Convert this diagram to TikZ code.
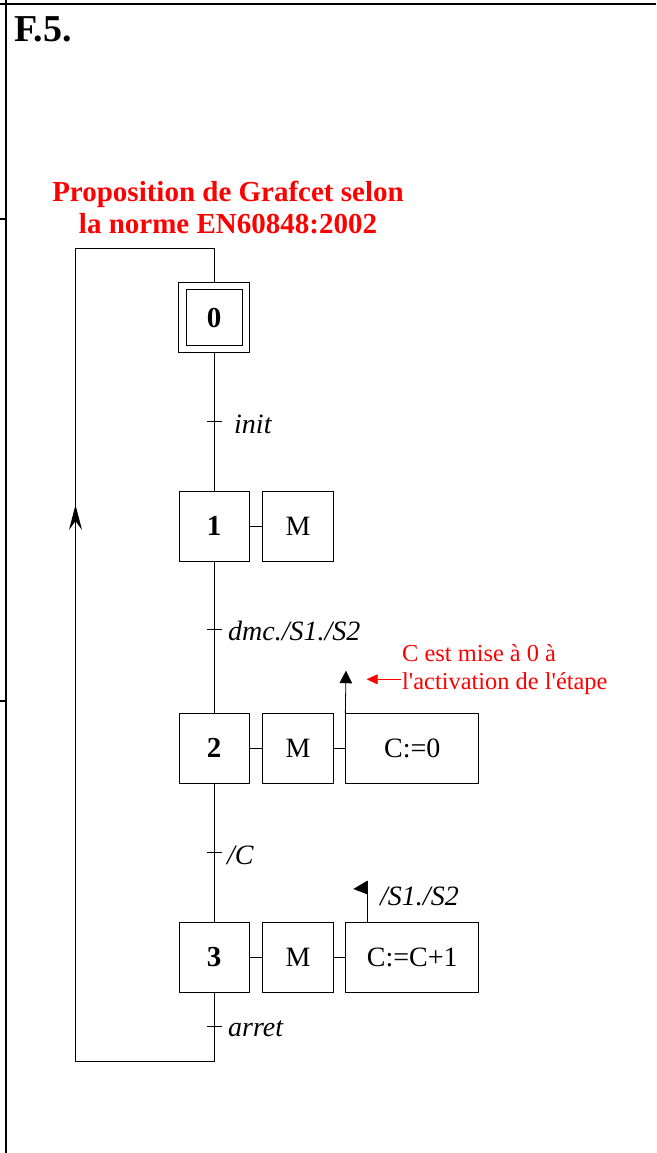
\documentclass[tikz,border=0pt]{standalone}
\usepackage{fontspec}
\setmainfont{Liberation Serif}
\usetikzlibrary{arrows.meta}

\begin{document}
\begin{tikzpicture}[x=1pt, y=1pt,
		etape/.style={draw, line width=0.9pt, minimum width=70pt, minimum height=70pt, inner sep=0pt, font=\bfseries\fontsize{29}{30}\selectfont},
		action/.style={draw, line width=0.9pt, minimum height=70pt, inner sep=0pt, font=\fontsize{28}{30}\selectfont},
		recept/.style={anchor=base west, inner sep=0pt, font=\itshape\fontsize{28}{30}\selectfont},
		titre/.style={anchor=base, inner sep=0pt, text=red, font=\bfseries\fontsize{29}{31}\selectfont},
		note/.style={anchor=base west, inner sep=0pt, text=red, font=\fontsize{24.4}{28}\selectfont},
		lien/.style={line width=0.8pt}]
		\useasboundingbox (0,0) rectangle (656,-1153);
		% Frame
		\draw[line width=2pt] (0,-4.3) -- (656,-4.3);
		\draw[line width=2pt] (6.3,0) -- (6.3,-1153);
		\draw[line width=1.5pt] (0,-219) -- (7,-219);
		\draw[line width=1.5pt] (0,-701) -- (7,-701);
		\node[anchor=base west, inner sep=0pt, font=\bfseries\fontsize{38}{40}\selectfont] (num) at (14,-42) {F.5.};
		% Title
		\node[titre] (titre1) at (228,-201.7) {Proposition de Grafcet selon};
		\node[titre] (titre2) at (228,-233) {la norme EN60848:2002};
		% Steps and actions
		\node[etape, minimum width=71pt] (e0) at (214,-317.7) {};
		\node[etape, minimum width=56pt, minimum height=56pt] (e0i) at (e0) {0};
		\node[etape] (e1) at (214,-526) {1};
		\node[action, minimum width=71pt] (a1) at (298,-526) {M};
		\node[etape] (e2) at (214,-748.3) {2};
		\node[action, minimum width=71pt] (a2) at (298,-748.3) {M};
		\node[action, minimum width=133pt] (c2) at (412.3,-748.3) {C:=0};
		\node[etape] (e3) at (214,-957) {3};
		\node[action, minimum width=71pt] (a3) at (298,-957) {M};
		\node[action, minimum width=133pt] (c3) at (412.3,-957) {C:=C+1};
		\draw[lien] (e1.east) -- (a1.west);
		\draw[lien] (e2.east) -- (a2.west);
		\draw[lien] (a2.east) -- (c2.west);
		\draw[lien] (e3.east) -- (a3.west);
		\draw[lien] (a3.east) -- (c3.west);
		% Links
		\draw[lien] (e0.south) -- (e1.north);
		\draw[lien] (e1.south) -- (e2.north);
		\draw[lien] (e2.south) -- (e3.north);
		% Transitions
		\coordinate (t0) at (214,-421.7);
		\coordinate (t1) at (214,-629.3);
		\coordinate (t2) at (214,-852.7);
		\coordinate (t3) at (214,-1026);
		\foreach \t in {t0,t1,t2,t3}
			\draw[lien] ([xshift=-7.5pt]\t) -- ([xshift=7.5pt]\t);
		\node[recept] (r0) at (234,-433) {init};
		\node[recept] (r1) at (228,-640) {dmc./S1./S2};
		\node[recept] (r2) at (227,-864) {/C};
		\node[recept] (r3) at (228,-1036.5) {arret};
		% Loop back to step 0
		\coordinate (b) at (214,-1061);
		\coordinate (g) at (75.5,-1061);
		\coordinate (h) at (75.5,-248);
		\coordinate (hd) at (214,-248);
		\coordinate (fl) at (75.5,-505);
		\draw[lien] (e3.south) -- (b) -- (g) -- (h) -- (hd) -- (e0.north);
		\draw[lien, -{Stealth[length=25pt, width=13pt, inset=9pt]}] (g) -- (fl);
		% Set on activation
		\coordinate (sig) at (346,-670.7);
		\draw[lien, -{Triangle[length=12.5pt, width=12.5pt]}] (c2.north west) -- (sig);
		\node[note] (n1) at (402,-661) {C est mise à 0 à};
		\node[note] (n2) at (402,-689) {l\textquotesingle activation de l\textquotesingle étape};
		\coordinate (n0) at (401,-679.3);
		\coordinate (n3) at (366.7,-679.3);
		\draw[red, line width=0.8pt, -{Triangle[length=11pt, width=10pt]}] (n0) -- (n3);
		% Event
		\coordinate (dr) at (367.3,-880.7);
		\draw[lien] (dr |- c3.north) -- (dr);
		\fill (dr) -- ++(-14,-8.3) -- ++(14,-5.3) -- cycle;
		\node[recept] (r4) at (380,-905) {/S1./S2};
	\end{tikzpicture}
\end{document}
